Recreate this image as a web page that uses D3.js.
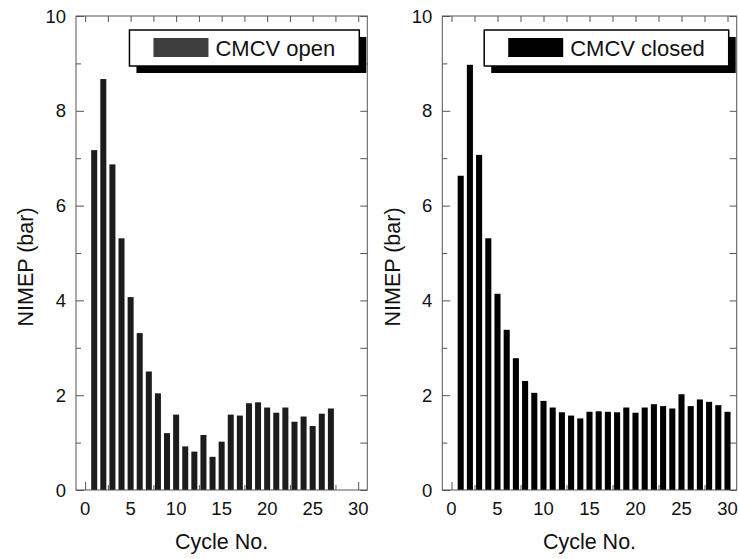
<!DOCTYPE html>
<html>
<head>
<meta charset="utf-8">
<script src="https://cdn.jsdelivr.net/npm/d3@7"></script>
<style>
  body { margin: 0; background: #fff; }
  svg text { font-family: "Liberation Sans", Arial, Helvetica, sans-serif; fill: #111; }
</style>
</head>
<body>
<svg id="chart" width="739" height="559"></svg>
<script>
// Net indicated mean effective pressure per engine cycle, two valve settings
const cyclesOpen = d3.range(1, 28);
const nimepOpen = [7.17, 8.67, 6.87, 5.31, 4.07, 3.31, 2.50, 2.04, 1.20, 1.59,
                   0.92, 0.81, 1.16, 0.70, 1.02, 1.59, 1.57, 1.83, 1.85, 1.74,
                   1.63, 1.74, 1.44, 1.55, 1.35, 1.61, 1.72];

const cyclesClosed = d3.range(1, 31);
const nimepClosed = [6.63, 8.97, 7.07, 5.31, 4.14, 3.38, 2.78, 2.30, 2.05, 1.88,
                     1.74, 1.64, 1.57, 1.51, 1.65, 1.66, 1.65, 1.64, 1.74, 1.63,
                     1.74, 1.81, 1.77, 1.72, 2.02, 1.77, 1.91, 1.86, 1.79, 1.65];

const seriesLabels = ["CMCV open", "CMCV closed"];
const xTickValues = [0, 5, 10, 15, 20, 25, 30];
const xMinorTicks = [2.5, 7.5, 12.5, 17.5, 22.5, 27.5];
const yTickValues = [0, 2, 4, 6, 8, 10];
const yMinorTicks = [1, 3, 5, 7, 9];
const xTitle = "Cycle No.";
const yTitle = "NIMEP (bar)";

const svg = d3.select("#chart");

const panels = [
  { x0: 76, x1: 367.3, cycles: cyclesOpen, values: nimepOpen, label: seriesLabels[0],
    barFill: "#1c1c1c", swatchFill: "#3e3e3e", yTitleX: 33 },
  { x0: 442.3, x1: 736.7, cycles: cyclesClosed, values: nimepClosed, label: seriesLabels[1],
    barFill: "#000", swatchFill: "#000", yTitleX: 400 }
];
const plotTop = 16, plotBottom = 490;
const frameColor = "#555";

panels.forEach(p => {
  const g = svg.append("g");
  const x = d3.scaleLinear().domain([-1, 31]).range([p.x0, p.x1]);
  const y = d3.scaleLinear().domain([0, 10]).range([plotBottom, plotTop]);

  const styleTicks = sel => {
    sel.select(".domain").remove();
    sel.selectAll(".tick line").attr("stroke", frameColor).attr("stroke-width", 1);
  };

  // inward ticks on all four sides
  g.append("g").attr("transform", `translate(0,${plotBottom})`)
    .call(d3.axisBottom(x).tickValues(xTickValues).tickSize(-8).tickFormat(""))
    .call(styleTicks);
  g.append("g").attr("transform", `translate(0,${plotBottom})`)
    .call(d3.axisBottom(x).tickValues(xMinorTicks).tickSize(-5).tickFormat(""))
    .call(styleTicks);
  g.append("g").attr("transform", `translate(0,${plotTop})`)
    .call(d3.axisTop(x).tickValues(xTickValues.concat(xMinorTicks)).tickSize(-6).tickFormat(""))
    .call(styleTicks);
  g.append("g").attr("transform", `translate(${p.x0},0)`)
    .call(d3.axisLeft(y).tickValues(yTickValues).tickSize(-8).tickFormat(""))
    .call(styleTicks);
  g.append("g").attr("transform", `translate(${p.x0},0)`)
    .call(d3.axisLeft(y).tickValues(yMinorTicks).tickSize(-5).tickFormat(""))
    .call(styleTicks);
  g.append("g").attr("transform", `translate(${p.x1},0)`)
    .call(d3.axisRight(y).tickValues(yTickValues.concat(yMinorTicks)).tickSize(-7).tickFormat(""))
    .call(styleTicks);

  // bars
  const bw = 0.66;
  g.append("g").selectAll("rect")
    .data(p.values)
    .join("rect")
    .attr("x", (d, i) => x(p.cycles[i] - bw / 2))
    .attr("width", x(bw) - x(0))
    .attr("y", d => y(d))
    .attr("height", d => y(0) - y(d))
    .attr("fill", p.barFill);

  // frame
  g.append("rect")
    .attr("x", p.x0).attr("y", plotTop)
    .attr("width", p.x1 - p.x0).attr("height", plotBottom - plotTop)
    .attr("fill", "none").attr("stroke", frameColor).attr("stroke-width", 1);

  // tick labels
  g.append("g").selectAll("text")
    .data(xTickValues).join("text")
    .attr("x", d => x(d)).attr("y", 515)
    .attr("text-anchor", "middle")
    .attr("font-size", 18.5)
    .text(d => d);
  g.append("g").selectAll("text")
    .data(yTickValues).join("text")
    .attr("x", p.x0 - 10).attr("y", d => y(d) + 6.5)
    .attr("text-anchor", "end")
    .attr("font-size", 18.5)
    .text(d => d);

  // axis titles
  g.append("text")
    .attr("x", (p.x0 + p.x1) / 2).attr("y", 549)
    .attr("text-anchor", "middle")
    .attr("font-size", 21.5)
    .text(xTitle);
  g.append("text")
    .attr("transform", `translate(${p.yTitleX},267) rotate(-90)`)
    .attr("text-anchor", "middle")
    .attr("font-size", 21.5)
    .text(yTitle);

  // legend with drop shadow
  const leg = g.append("g");
  const shadow = leg.append("rect").attr("fill", "#000");
  const box = leg.append("rect").attr("fill", "#fff").attr("stroke", "#000").attr("stroke-width", 1.5);
  const swatch = leg.append("rect").attr("fill", p.swatchFill);
  const label = leg.append("text").attr("font-size", 22).text(p.label);
  const tw = label.node().getComputedTextLength();
  const boxRight = p.x1 - 8;
  const boxW = 24 + 55 + 7 + tw + 24;
  const boxL = boxRight - boxW;
  const boxT = 30, boxH = 36;
  box.attr("x", boxL).attr("y", boxT).attr("width", boxW).attr("height", boxH);
  shadow.attr("x", boxL + 7).attr("y", boxT + 7)
    .attr("width", Math.min(boxW, p.x1 - boxL - 7)).attr("height", boxH);
  swatch.attr("x", boxL + 24).attr("y", boxT + 8).attr("width", 55).attr("height", 19);
  label.attr("x", boxL + 24 + 55 + 7).attr("y", boxT + 26);
});
</script>
</body>
</html>
